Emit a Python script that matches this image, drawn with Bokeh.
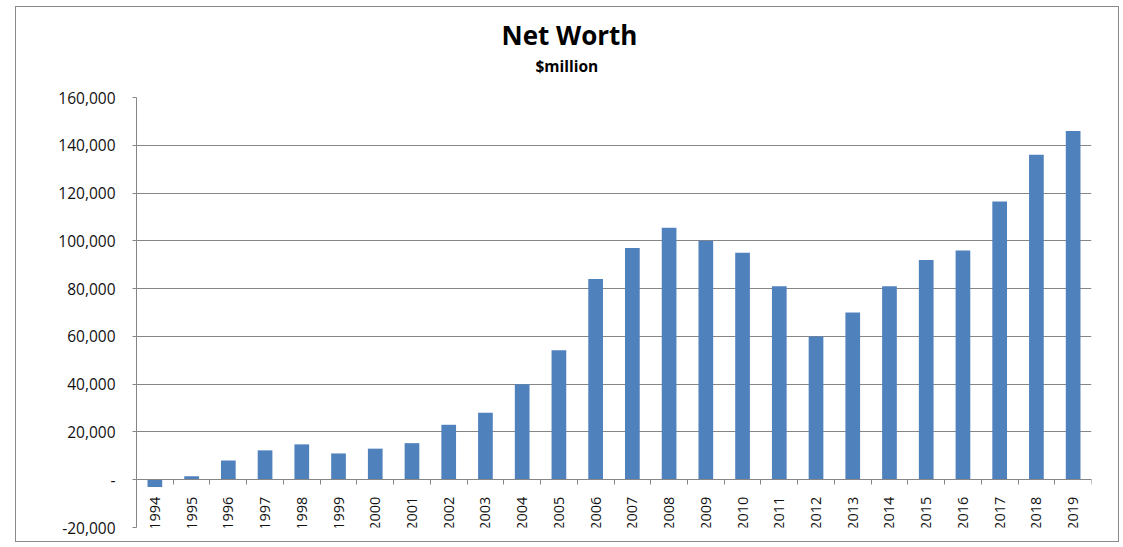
import math
from bokeh.plotting import figure
from bokeh.models import (FixedTicker, Range1d, NumeralTickFormatter, Title,
                          LinearAxis, Grid, ColumnDataSource)
from bokeh.embed import file_html
from bokeh.resources import INLINE

# ---- data ----
years = [str(y) for y in range(1994, 2020)]
net_worth = [-3000, 1500, 8000, 12300, 14800, 11000, 13000, 15300, 23000,
             28000, 40000, 54200, 84000, 97000, 105500, 100000, 95000, 81000,
             60000, 70000, 81000, 92000, 96000, 116500, 136000, 146000]
y_ticks = [-20000, 0, 20000, 40000, 60000, 80000, 100000, 120000, 140000, 160000]
title_text = "Net Worth"
subtitle_text = "$million"

FONT = "Open Sans"
GRID = "#868686"
BAR = "#4F81BD"
TXT = "#111111"

x_pos = [i + 0.5 for i in range(len(years))]
boundaries = list(range(len(years) + 1))
src = ColumnDataSource(data=dict(x=x_pos, top=net_worth, year=years))

p = figure(width=1104, height=536,
           x_range=Range1d(0, len(years)), y_range=Range1d(-20000, 160000),
           x_axis_type=None, y_axis_type=None, title=None,
           output_backend="svg", toolbar_location=None,
           min_border_left=120, min_border_right=29,
           min_border_top=90, min_border_bottom=16,
           styles={"border": "1px solid #8a8a8a",
                   "margin-left": "15px", "margin-top": "6px"})
p.outline_line_color = None
p.background_fill_color = "white"
p.border_fill_color = "white"

# y axis
yaxis = LinearAxis(ticker=FixedTicker(ticks=y_ticks),
                   formatter=NumeralTickFormatter(format="0,0"),
                   major_label_overrides={0: "-"})
yaxis.axis_line_color = GRID
yaxis.major_tick_line_color = GRID
yaxis.major_tick_out = 4
yaxis.major_tick_in = 0
yaxis.minor_tick_line_color = None
yaxis.major_label_standoff = 17
yaxis.major_label_text_font = FONT
yaxis.major_label_text_font_size = "15.5px"
yaxis.major_label_text_color = TXT
p.add_layout(yaxis, "left")

p.add_layout(Grid(dimension=1, ticker=yaxis.ticker, grid_line_color=GRID,
                  grid_line_width=1))

p.vbar(x="x", top="top", bottom=0, width=0.4, source=src,
       fill_color=BAR, line_color=None)

# x (category) axis crossing at zero
xaxis = LinearAxis(ticker=FixedTicker(ticks=x_pos, minor_ticks=boundaries),
                   major_label_overrides={x: y for x, y in zip(x_pos, years)},
                   fixed_location=0)
xaxis.axis_line_color = GRID
xaxis.major_tick_out = 0
xaxis.major_tick_in = 0
xaxis.minor_tick_out = 5
xaxis.minor_tick_in = 0
xaxis.minor_tick_line_color = GRID
xaxis.major_label_orientation = math.pi / 2
xaxis.major_label_standoff = 12
xaxis.major_label_text_font = FONT
xaxis.major_label_text_font_size = "14.5px"
xaxis.major_label_text_color = TXT
p.add_layout(xaxis, "below")

# titles (first added sits closest to the plot)
p.add_layout(Title(text=" ", text_font=FONT, text_font_size="14.3px",
                   standoff=0), "above")
p.add_layout(Title(text=subtitle_text, align="left", offset=399,
                   text_font=FONT, text_font_style="bold",
                   text_font_size="15.5px", text_color="black", standoff=0), "above")
p.add_layout(Title(text=title_text, align="left", offset=365,
                   text_font=FONT, text_font_style="bold",
                   text_font_size="26px", text_color="black", standoff=0), "above")

open("out.html", "w").write(file_html(p, INLINE))
